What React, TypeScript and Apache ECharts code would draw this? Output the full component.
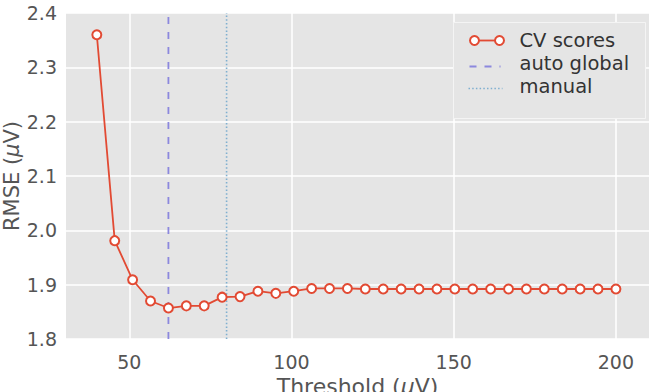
import React, { useEffect, useRef } from "react";
import * as echarts from "echarts";

const thresholds = [40, 45.52, 51.03, 56.55, 62.07, 67.59, 73.1, 78.62, 84.14, 89.66, 95.17, 100.69, 106.21, 111.72, 117.24, 122.76, 128.28, 133.79, 139.31, 144.83, 150.34, 155.86, 161.38, 166.9, 172.41, 177.93, 183.45, 188.97, 194.48, 200];
const cvScores = [2.36, 1.981, 1.909, 1.87, 1.857, 1.861, 1.861, 1.877, 1.878, 1.888, 1.884, 1.888, 1.893, 1.893, 1.893, 1.892, 1.892, 1.892, 1.892, 1.892, 1.892, 1.892, 1.892, 1.892, 1.892, 1.892, 1.892, 1.892, 1.892, 1.892];
const autoGlobal = 62.07;
const manual = 80;
const xTicks = [50, 100, 150, 200];
const yRange = [1.8, 2.4];
const legendLabels = ["CV scores", "auto global", "manual"];

const RED = "#E24A33";
const DASH = "#8C88DE";
const DOT = "#7FAFD0";
const FONT = "DejaVu Sans";

export default function App() {
  const ref = useRef<HTMLDivElement>(null);
  useEffect(() => {
    if (!ref.current) return;
    const chart = echarts.init(ref.current, undefined, { renderer: "svg" });
    const lx = 453, ly = 22;
    chart.setOption({
      animation: false,
      backgroundColor: "#ffffff",
      textStyle: { fontFamily: FONT },
      grid: { left: 66, top: 13, right: 0, bottom: 53, containLabel: false, outerBoundsMode: "none", show: true, backgroundColor: "#E5E5E5", borderWidth: 0 },
      xAxis: {
        type: "value",
        min: 30.5,
        max: 210.2,
        name: "{n|Threshold (}{i|μ}{n|V)}",
        nameLocation: "middle",
        nameGap: 36,
        nameMoveOverlap: false,
        nameTextStyle: {
          rich: {
            n: { fontSize: 22, color: "#555555", fontFamily: FONT },
            i: { fontSize: 22, color: "#555555", fontFamily: FONT, fontStyle: "italic" },
          },
        },
        axisLine: { show: false },
        axisTick: { show: false, customValues: xTicks },
        axisLabel: { customValues: xTicks, fontSize: 19, color: "#555555", margin: 13, fontFamily: FONT },
        splitLine: { show: true, lineStyle: { color: "#ffffff", width: 1.5 } },
      },
      yAxis: {
        type: "value",
        min: yRange[0],
        max: yRange[1],
        interval: 0.1,
        name: "{n|RMSE (}{i|μ}{n|V)}",
        nameLocation: "middle",
        nameGap: 44,
        nameMoveOverlap: false,
        nameTextStyle: {
          rich: {
            n: { fontSize: 21, color: "#555555", fontFamily: FONT },
            i: { fontSize: 21, color: "#555555", fontFamily: FONT, fontStyle: "italic" },
          },
        },
        axisLine: { show: false },
        axisTick: { show: false },
        axisLabel: { fontSize: 19, color: "#555555", margin: 9, fontFamily: FONT, formatter: (v: number) => v.toFixed(1) },
        splitLine: { show: true, lineStyle: { color: "#ffffff", width: 1.5 } },
      },
      series: [
        {
          type: "line",
          name: legendLabels[1],
          data: [[autoGlobal, yRange[0]], [autoGlobal, yRange[1]]],
          symbol: "none",
          lineStyle: { color: DASH, width: 1.8, type: [7, 8] },
          z: 1,
        },
        {
          type: "line",
          name: legendLabels[2],
          data: [[manual, yRange[0]], [manual, yRange[1]]],
          symbol: "none",
          lineStyle: { color: DOT, width: 1.6, type: [1.5, 2.2] },
          z: 1,
        },
        {
          type: "line",
          name: legendLabels[0],
          data: thresholds.map((t, i) => [t, cvScores[i]]),
          symbol: "circle",
          symbolSize: 9,
          itemStyle: { color: "#ffffff", borderColor: RED, borderWidth: 2 },
          lineStyle: { color: RED, width: 1.8 },
          z: 3,
        },
      ],
      graphic: [
        {
          type: "group",
          left: lx,
          top: ly,
          z: 100,
          children: [
            { type: "rect", z: 100, shape: { x: 0, y: 0, width: 192, height: 96 }, style: { fill: "#E5E5E5", stroke: "#F4F4F4", lineWidth: 1 } },
            { type: "line", z: 101, shape: { x1: 21, y1: 18, x2: 46, y2: 18 }, style: { stroke: RED, lineWidth: 1.8 } },
            { type: "circle", z: 102, shape: { cx: 21, cy: 18, r: 4.5 }, style: { fill: "#ffffff", stroke: RED, lineWidth: 2 } },
            { type: "circle", z: 102, shape: { cx: 46, cy: 18, r: 4.5 }, style: { fill: "#ffffff", stroke: RED, lineWidth: 2 } },
            { type: "line", z: 101, shape: { x1: 16, y1: 44, x2: 47, y2: 44 }, style: { stroke: DASH, lineWidth: 1.8, lineDash: [7, 8] } },
            { type: "line", z: 101, shape: { x1: 15, y1: 66, x2: 49, y2: 66 }, style: { stroke: DOT, lineWidth: 1.6, lineDash: [1.5, 2.2] } },
            { type: "text", z: 101, x: 66, y: 18, style: { text: legendLabels[0], fontSize: 19.5, fill: "#333333", fontFamily: FONT, verticalAlign: "middle" } },
            { type: "text", z: 101, x: 66, y: 41, style: { text: legendLabels[1], fontSize: 19.5, fill: "#333333", fontFamily: FONT, verticalAlign: "middle" } },
            { type: "text", z: 101, x: 66, y: 64, style: { text: legendLabels[2], fontSize: 19.5, fill: "#333333", fontFamily: FONT, verticalAlign: "middle" } },
          ],
        },
      ],
    });
    return () => chart.dispose();
  }, []);
  return <div ref={ref} style={{ position: "fixed", left: 0, top: 0, width: 649, height: 392 }} />;
}
